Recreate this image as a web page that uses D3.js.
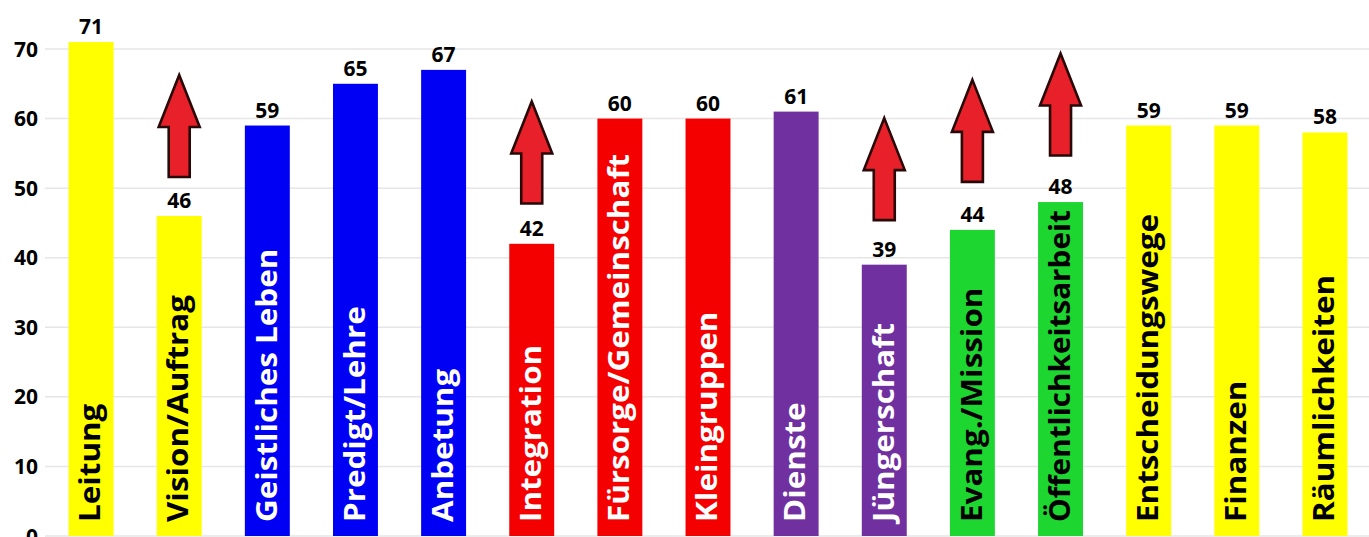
<!DOCTYPE html>
<html lang="de">
<head>
<meta charset="UTF-8">
<title>Qualitätsmerkmale</title>
<script src="https://d3js.org/d3.v7.min.js"></script>
<style>
  html, body { margin: 0; padding: 0; background: #fff; }
  svg { display: block; font-family: "Open Sans", "DejaVu Sans", sans-serif; }
  .grid line { stroke: #e6e6e6; stroke-width: 1.5; }
  .ytick { font-size: 21px; font-weight: 700; fill: #000; }
  .value { font-size: 21px; font-weight: 700; fill: #000; }
  .cat { font-size: 28px; font-weight: 700; }
  .arrow { fill: #e8202a; stroke: #2a0808; stroke-width: 2.6; stroke-linejoin: miter; }
</style>
</head>
<body>
<svg id="chart" width="1369" height="537"></svg>
<script>
  // Daten
  const categories = ["Leitung", "Vision/Auftrag", "Geistliches Leben", "Predigt/Lehre", "Anbetung",
    "Integration", "Fürsorge/Gemeinschaft", "Kleingruppen", "Dienste", "Jüngerschaft",
    "Evang./Mission", "Öffentlichkeitsarbeit", "Entscheidungswege", "Finanzen", "Räumlichkeiten"];
  const values = [71, 46, 59, 65, 67, 42, 60, 60, 61, 39, 44, 48, 59, 59, 58];
  const groups = ["gelb", "gelb", "blau", "blau", "blau", "rot", "rot", "rot", "lila", "lila",
    "grün", "grün", "gelb", "gelb", "gelb"];
  const yTicks = [0, 10, 20, 30, 40, 50, 60, 70];

  // Pfeile (Basis in Werteinheiten)
  const arrowCats = ["Vision/Auftrag", "Integration", "Jüngerschaft", "Evang./Mission", "Öffentlichkeitsarbeit"];
  const arrowBase = [51.6, 47.8, 45.4, 50.9, 54.7];

  const data = categories.map((c, i) => ({ cat: c, value: values[i], group: groups[i] }));

  const W = 1369, H = 537;
  const svg = d3.select("#chart");

  const x = d3.scaleBand()
    .domain(categories)
    .range([47, W])
    .paddingInner(0.49)
    .paddingOuter(0.245);

  const y = d3.scaleLinear().domain([0, 70]).range([536, 49]);

  const color = d3.scaleOrdinal()
    .domain(["gelb", "blau", "rot", "lila", "grün"])
    .range(["#ffff00", "#0000f5", "#f50000", "#7030a0", "#1ed630"]);
  const textColor = d3.scaleOrdinal()
    .domain(["gelb", "blau", "rot", "lila", "grün"])
    .range(["#000", "#fff", "#fff", "#fff", "#000"]);

  // Gitterlinien
  svg.append("g").attr("class", "grid")
    .selectAll("line").data(yTicks).join("line")
    .attr("x1", 45).attr("x2", W)
    .attr("y1", d => y(d)).attr("y2", d => y(d));

  // y-Achse Beschriftung
  svg.append("g")
    .selectAll("text").data(yTicks).join("text")
    .attr("class", "ytick")
    .attr("x", 38).attr("y", d => y(d))
    .attr("dy", "0.36em")
    .attr("text-anchor", "end")
    .text(d => d);

  // Balken
  svg.append("g")
    .selectAll("rect").data(data).join("rect")
    .attr("x", d => x(d.cat))
    .attr("width", x.bandwidth())
    .attr("y", d => y(d.value))
    .attr("height", d => y(0) - y(d.value))
    .attr("fill", d => color(d.group));

  // Werte
  svg.append("g")
    .selectAll("text").data(data).join("text")
    .attr("class", "value")
    .attr("x", d => x(d.cat) + x.bandwidth() / 2)
    .attr("y", d => y(d.value) - 8)
    .attr("text-anchor", "middle")
    .text(d => d.value);

  // Kategorien (gedreht, im Balken) - gestreckt, aber nie länger als der Balken
  const bottomPad = 14, topPad = 8, stretch = 1.12;
  svg.append("g")
    .selectAll("text").data(data).join("text")
    .attr("class", "cat")
    .attr("dy", "0.33em")
    .attr("fill", d => textColor(d.group))
    .text(d => d.cat)
    .each(function(d) {
      const len = this.getComputedTextLength();
      const avail = y(0) - y(d.value) - bottomPad - topPad;
      const s = Math.min(stretch, avail / len);
      d3.select(this).attr("transform",
        `translate(${x(d.cat) + x.bandwidth() / 2},${y(0) - bottomPad}) rotate(-90) scale(${s},1)`);
    });

  // Pfeile
  const aH = 102, headH = 52, headW = 41, shaftW = 21;
  const arrowPath = `M0,${-aH} L${headW / 2},${-aH + headH} L${shaftW / 2},${-aH + headH} L${shaftW / 2},0 ` +
    `L${-shaftW / 2},0 L${-shaftW / 2},${-aH + headH} L${-headW / 2},${-aH + headH} Z`;
  svg.append("g")
    .selectAll("path").data(arrowCats).join("path")
    .attr("class", "arrow")
    .attr("transform", (c, i) => `translate(${x(c) + x.bandwidth() / 2},${y(arrowBase[i])})`)
    .attr("d", arrowPath);
</script>
</body>
</html>
